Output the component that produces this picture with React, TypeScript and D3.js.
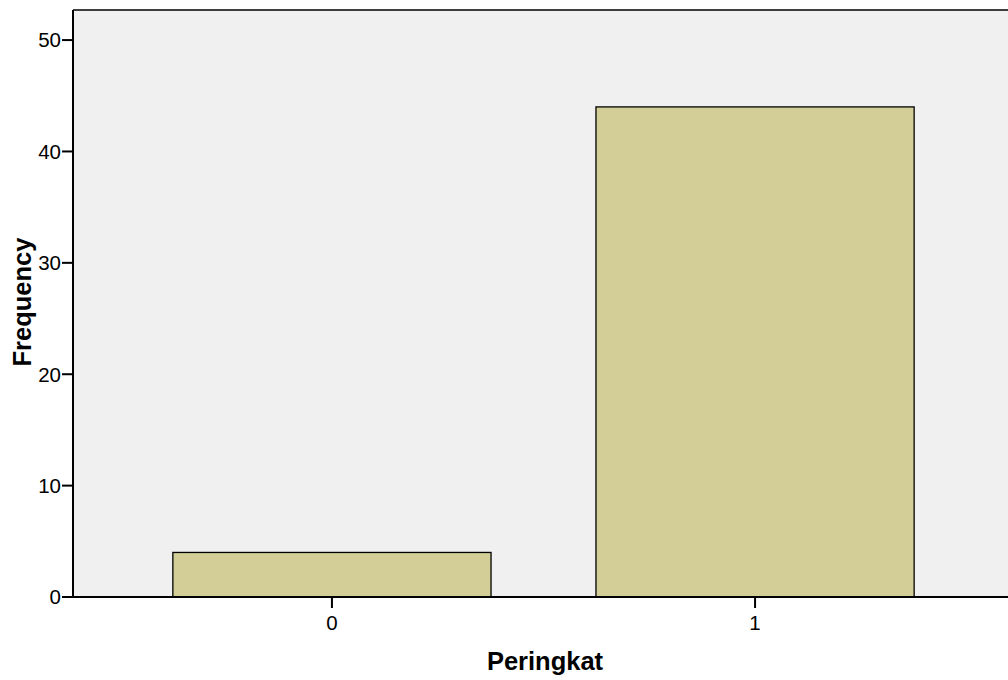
import React from "react";
import * as d3 from "d3";

const categories = ["0", "1"];
const frequencies = [4, 44];
const yTicks = [0, 10, 20, 30, 40, 50];

const W = 1008;
const H = 680;
const M = { left: 73, top: 10, right: -6, bottom: 83 };

export default function App() {
  const x = d3
    .scaleBand<string>()
    .domain(categories)
    .range([M.left, W - M.right])
    .paddingInner(0.248)
    .paddingOuter(0.236);
  const y = d3
    .scaleLinear()
    .domain([0, 52.7])
    .range([H - M.bottom, M.top]);
  const y0 = y(0);
  const font = "'Liberation Sans', Arial, Helvetica, sans-serif";
  return (
    <svg
      width={W}
      height={H}
      style={{ position: "absolute", left: 0, top: 0, background: "#fff" }}
      fontFamily={font}
    >
      <rect x={M.left} y={M.top} width={W - M.left + 10} height={y0 - M.top} fill="#f0f0f0" />
      <line x1={M.left} x2={W + 10} y1={M.top} y2={M.top} stroke="#000" strokeWidth={1.5} />
      {categories.map((c, i) => (
        <rect
          key={c}
          x={x(c)!}
          y={y(frequencies[i])}
          width={x.bandwidth()}
          height={y0 - y(frequencies[i])}
          fill="#d3ce98"
          stroke="#000"
          strokeWidth={1.3}
        />
      ))}
      <line x1={M.left} x2={M.left} y1={M.top} y2={y0} stroke="#000" strokeWidth={2} />
      <line x1={M.left} x2={W + 10} y1={y0} y2={y0} stroke="#000" strokeWidth={2} />
      {yTicks.map((t) => (
        <g key={t}>
          <line x1={M.left - 11} x2={M.left} y1={y(t)} y2={y(t)} stroke="#000" strokeWidth={2} />
          <text x={M.left - 12} y={y(t)} dy="0.36em" textAnchor="end" fontSize={20.5}>
            {t}
          </text>
        </g>
      ))}
      {categories.map((c) => {
        const cx = x(c)! + x.bandwidth() / 2;
        return (
          <g key={c}>
            <line x1={cx} x2={cx} y1={y0} y2={y0 + 11} stroke="#000" strokeWidth={2} />
            <text x={cx} y={y0 + 33} textAnchor="middle" fontSize={20.5}>
              {c}
            </text>
          </g>
        );
      })}
      <text x={545} y={670} textAnchor="middle" fontSize={25.5} fontWeight="bold">
        Peringkat
      </text>
      <text
        transform={`translate(31, 302) rotate(-90)`}
        textAnchor="middle"
        fontSize={25.5}
        fontWeight="bold"
      >
        Frequency
      </text>
    </svg>
  );
}
